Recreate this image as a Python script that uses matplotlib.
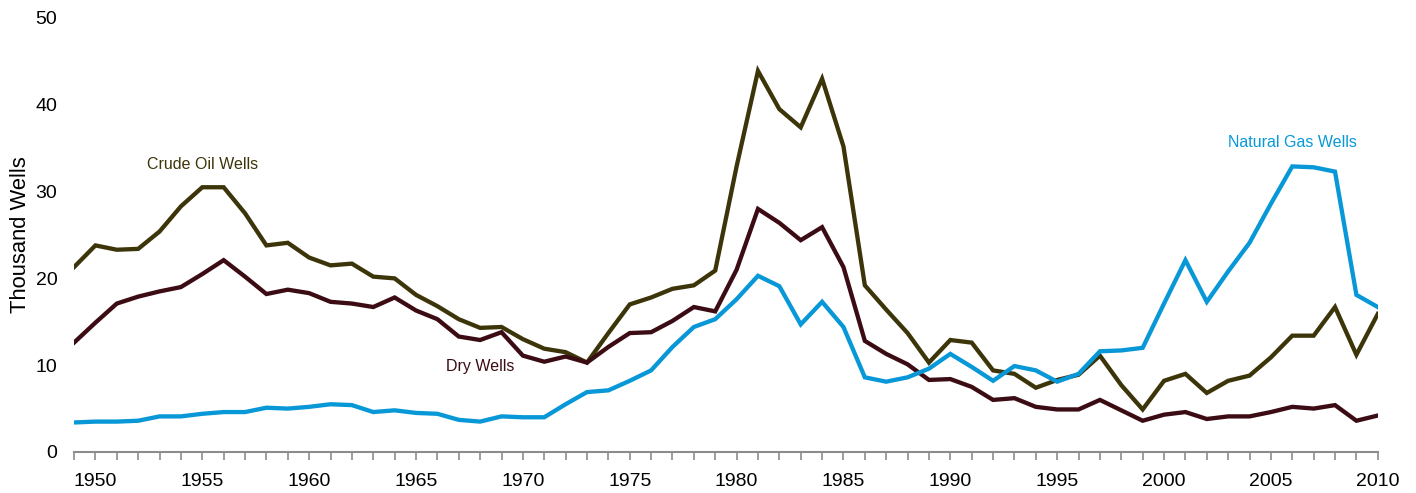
import numpy as np
import matplotlib
matplotlib.use("Agg")
from matplotlib import pyplot as plt
from matplotlib.ticker import MultipleLocator

plt.rcParams['font.family'] = ['Liberation Sans', 'DejaVu Sans']

years = np.arange(1949, 2011)

# thousand wells drilled per year
crude_oil = [21.3, 23.8, 23.3, 23.4, 25.4, 28.3, 30.5, 30.5, 27.5, 23.8,
             24.1, 22.4, 21.5, 21.7, 20.2, 20.0, 18.1, 16.8, 15.3, 14.3,
             14.4, 13.0, 11.9, 11.5, 10.3, 13.7, 17.0, 17.8, 18.8, 19.2,
             20.9, 32.9, 43.9, 39.5, 37.4, 43.0, 35.2, 19.2, 16.4, 13.7,
             10.3, 12.9, 12.6, 9.4, 9.0, 7.4, 8.3, 8.9, 11.1, 7.7,
             4.9, 8.2, 9.0, 6.8, 8.2, 8.8, 10.9, 13.4, 13.4, 16.7,
             11.2, 15.9]
dry = [12.6, 14.9, 17.1, 17.9, 18.5, 19.0, 20.5, 22.1, 20.2, 18.2,
       18.7, 18.3, 17.3, 17.1, 16.7, 17.8, 16.3, 15.3, 13.3, 12.9,
       13.8, 11.1, 10.4, 11.0, 10.3, 12.1, 13.7, 13.8, 15.1, 16.7,
       16.2, 21.0, 28.0, 26.4, 24.4, 25.9, 21.3, 12.8, 11.3, 10.1,
       8.3, 8.4, 7.5, 6.0, 6.2, 5.2, 4.9, 4.9, 6.0, 4.8,
       3.6, 4.3, 4.6, 3.8, 4.1, 4.1, 4.6, 5.2, 5.0, 5.4,
       3.6, 4.2]
natural_gas = [3.4, 3.5, 3.5, 3.6, 4.1, 4.1, 4.4, 4.6, 4.6, 5.1,
               5.0, 5.2, 5.5, 5.4, 4.6, 4.8, 4.5, 4.4, 3.7, 3.5,
               4.1, 4.0, 4.0, 5.5, 6.9, 7.1, 8.2, 9.4, 12.1, 14.4,
               15.3, 17.6, 20.3, 19.1, 14.7, 17.3, 14.4, 8.6, 8.1, 8.6,
               9.6, 11.3, 9.8, 8.2, 9.9, 9.4, 8.1, 9.0, 11.6, 11.7,
               12.0, 17.1, 22.1, 17.3, 20.8, 24.1, 28.6, 32.9, 32.8, 32.3,
               18.1, 16.7]

oil_color = "#3d350a"
dry_color = "#3c0c14"
gas_color = "#0898d8"

fig = plt.figure(figsize=(14.16, 4.93), dpi=100)
ax = fig.add_axes([0.0523, 0.0832, 0.9207, 0.8803])

ax.plot(years, crude_oil, color=oil_color, lw=3.1, solid_joinstyle="miter")
ax.plot(years, dry, color=dry_color, lw=3.1, solid_joinstyle="miter")
ax.plot(years, natural_gas, color=gas_color, lw=3.1, solid_joinstyle="miter")

# series labels
ax.text(1955.0, 33.1, "Crude Oil Wells", color=oil_color, fontsize=11.5, ha="center", va="center")
ax.text(1968.0, 9.8, "Dry Wells", color=dry_color, fontsize=11.5, ha="center", va="center")
ax.text(2006.0, 35.7, "Natural Gas Wells", color=gas_color, fontsize=11.5, ha="center", va="center")

ax.set_xlim(1949, 2010)
ax.set_ylim(0, 50)
ax.xaxis.set_major_locator(MultipleLocator(5))
ax.xaxis.set_minor_locator(MultipleLocator(1))
ax.yaxis.set_major_locator(MultipleLocator(10))

for s in ["top", "right", "left"]:
    ax.spines[s].set_visible(False)
ax.spines["bottom"].set_color("#8c8c8c")
ax.spines["bottom"].set_linewidth(1.5)

ax.tick_params(axis="x", which="both", direction="out", length=6, width=1.2,
               color="#8c8c8c", labelsize=14, pad=9)
ax.tick_params(axis="y", length=0, labelsize=14, pad=12)
ax.set_ylabel("Thousand Wells", fontsize=15.8, labelpad=3)

fig.savefig("out.png", dpi=100)
